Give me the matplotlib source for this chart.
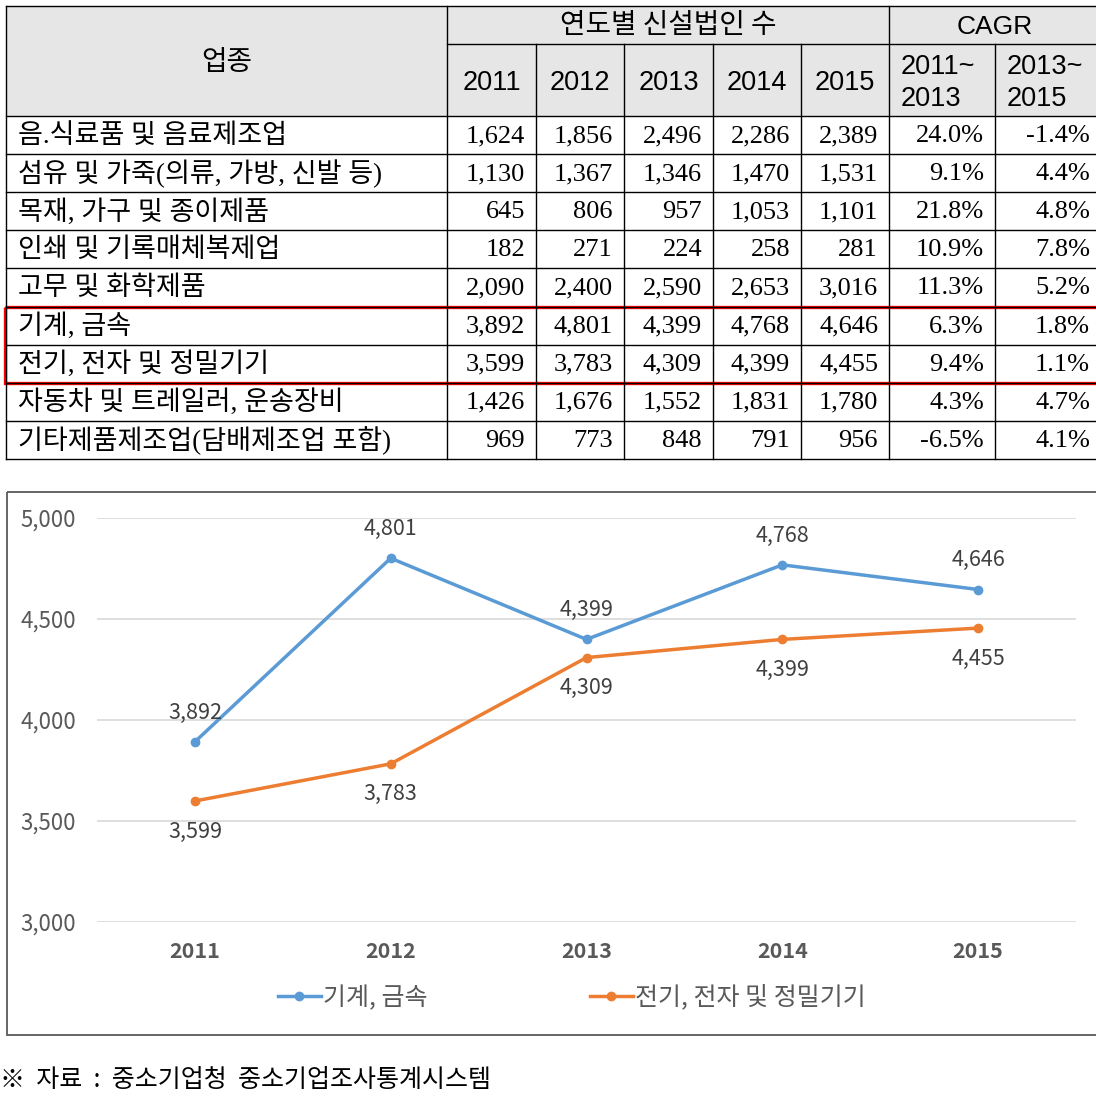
import matplotlib
matplotlib.use("Agg")
import matplotlib.pyplot as plt
from matplotlib.patches import Rectangle

plt.rcParams['font.family'] = ['Noto Sans CJK KR', 'DejaVu Sans']

# ---- 데이터 ----
years = ['2011', '2012', '2013', '2014', '2015']
industries = ['음.식료품 및 음료제조업', '섬유 및 가죽(의류, 가방, 신발 등)', '목재, 가구 및 종이제품',
              '인쇄 및 기록매체복제업', '고무 및 화학제품', '기계, 금속', '전기, 전자 및 정밀기기',
              '자동차 및 트레일러, 운송장비', '기타제품제조업(담배제조업 포함)']
counts = [
    [1624, 1856, 2496, 2286, 2389],
    [1130, 1367, 1346, 1470, 1531],
    [645, 806, 957, 1053, 1101],
    [182, 271, 224, 258, 281],
    [2090, 2400, 2590, 2653, 3016],
    [3892, 4801, 4399, 4768, 4646],
    [3599, 3783, 4309, 4399, 4455],
    [1426, 1676, 1552, 1831, 1780],
    [969, 773, 848, 791, 956],
]
cagr_11_13 = [24.0, 9.1, 21.8, 10.9, 11.3, 6.3, 9.4, 4.3, -6.5]
cagr_13_15 = [-1.4, 4.4, 4.8, 7.8, 5.2, 1.8, 1.1, 4.7, 4.1]
highlight = [5, 6]

series_names = ['기계, 금속', '전기, 전자 및 정밀기기']
series_colors = ['#5B9BD5', '#ED7D31']

W, H = 1096, 1105
fig = plt.figure(figsize=(W / 100, H / 100), dpi=100)

# 표는 픽셀 좌표계 위에 그림
bg = fig.add_axes([0, 0, 1, 1])
bg.set_xlim(0, W)
bg.set_ylim(H, 0)
bg.axis('off')

col_x = [6, 447, 536, 624, 713, 801, 889, 995, 1101]
top, mid, head_bot = 6, 44, 116
row_h = (459 - head_bot) / len(industries)
row_y = [head_bot + i * row_h for i in range(len(industries) + 1)]

bg.add_patch(Rectangle((col_x[0], top), col_x[-1] - col_x[0], head_bot - top,
                       facecolor='#E6E6E6', edgecolor='none'))
lw = 1.0
# 가로선
bg.plot([col_x[0], col_x[-1]], [top, top], color='black', lw=lw)
bg.plot([col_x[1], col_x[-1]], [mid, mid], color='black', lw=lw)
for y in row_y:
    bg.plot([col_x[0], col_x[-1]], [y, y], color='black', lw=lw)
# 세로선
for i, x in enumerate(col_x[:-1]):
    y0 = top if i in (0, 1, 6) else mid
    bg.plot([x, x], [y0, row_y[-1]], color='black', lw=lw)

hdr_kw = dict(ha='center', va='center', fontsize=20, color='black')
bg.text((col_x[0] + col_x[1]) / 2, 62, '업종', **hdr_kw)
bg.text((col_x[1] + col_x[6]) / 2, 25, '연도별 신설법인 수', **hdr_kw)
bg.text((col_x[6] + col_x[8]) / 2, 27, 'CAGR', ha='center', va='center',
        fontsize=19, family='Liberation Sans')
for i, yr in enumerate(years):
    bg.text((col_x[i + 1] + col_x[i + 2]) / 2, 83, yr, ha='center', va='center',
            fontsize=19.5, family='Liberation Sans')
for j, (a, b) in enumerate([('2011', '2013'), ('2013', '2015')]):
    bg.text(col_x[6 + j] + 12, 67, a + '~', ha='left', va='center', fontsize=19.5, family='Liberation Sans')
    bg.text(col_x[6 + j] + 12, 99, b, ha='left', va='center', fontsize=19.5, family='Liberation Sans')

serif = ['Liberation Serif', 'Noto Sans CJK KR']
for r, name in enumerate(industries):
    yc = (row_y[r] + row_y[r + 1]) / 2 + 1
    bg.text(col_x[0] + 12, yc, name, ha='left', va='center', fontsize=19.5, family=serif)
    for c, v in enumerate(counts[r]):
        bg.text(col_x[c + 2] - 11, yc, f'{v:,}', ha='right', va='center', fontsize=19, family=serif)
    bg.text(col_x[7] - 11, yc, f'{cagr_11_13[r]:.1f}%', ha='right', va='center', fontsize=19, family=serif)
    bg.text(col_x[8] - 11, yc, f'{cagr_13_15[r]:.1f}%', ha='right', va='center', fontsize=19, family=serif)

# 강조 박스
bg.add_patch(Rectangle((5, row_y[highlight[0]]), 1100, row_y[highlight[-1] + 1] - row_y[highlight[0]],
                       facecolor='none', edgecolor='#FF0000', lw=2.4))

# 차트 테두리
bg.add_patch(Rectangle((7, 492), 1100, 543, facecolor='none', edgecolor='#595959', lw=1.3))

# ---- 꺾은선 차트 ----
ax = fig.add_axes([97 / W, 1 - 922 / H, 979 / W, 404 / H])
ax.patch.set_alpha(0)
xs = list(range(len(years)))
for k, (idx, name, col) in enumerate(zip(highlight, series_names, series_colors)):
    vals = counts[idx]
    ax.plot(xs, vals, color=col, lw=2.5, marker='o', markersize=6, label=name, zorder=3)
    dy = 21 if k == 0 else -22
    for x, v in zip(xs, vals):
        ax.annotate(f'{v:,}', (x, v), xytext=(0, dy), textcoords='offset points',
                    ha='center', va='center', fontsize=15.5, color='#404040')

ax.set_xlim(-0.5, len(years) - 0.5)
ax.set_ylim(3000, 5000)
ax.set_yticks([3000, 3500, 4000, 4500, 5000])
ax.set_yticklabels([f'{t:,}' for t in [3000, 3500, 4000, 4500, 5000]])
ax.set_xticks(xs)
ax.set_xticklabels(years, fontweight='bold')
ax.grid(axis='y', color='#D9D9D9', lw=1.2)
ax.set_axisbelow(True)
for s in ax.spines.values():
    s.set_visible(False)
ax.tick_params(axis='y', length=0, pad=15, labelsize=16, labelcolor='#595959')
ax.tick_params(axis='x', length=0, pad=14, labelsize=15.5, labelcolor='#595959')

leg = fig.legend(loc='center', bbox_to_anchor=(572 / W, 1 - 998 / H), ncol=2, frameon=False,
                 fontsize=18, handlelength=1.7, handletextpad=0.1, columnspacing=6.5)
for t in leg.get_texts():
    t.set_color('#595959')

fig.text(0 / W, 1 - 1080 / H, '※  자료  :  중소기업청  중소기업조사통계시스템', ha='left', va='center',
         fontsize=18, color='black')

fig.savefig('out.png', dpi=100)
